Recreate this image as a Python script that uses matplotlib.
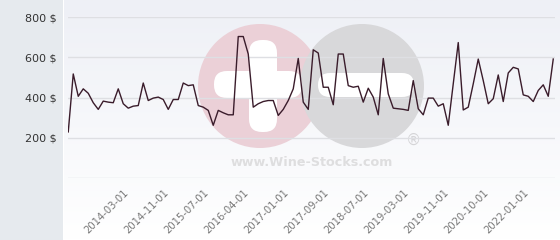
import matplotlib
matplotlib.use("Agg")
import matplotlib.pyplot as plt
import numpy as np
from matplotlib.patches import Circle, FancyBboxPatch, Rectangle

# ---- data ----
prices = [229, 517, 406, 443, 421, 374, 341, 382, 377, 374,
          443, 369, 347, 357, 360, 472, 385, 397, 402, 390,
          341, 390, 390, 472, 459, 463, 360, 352, 336, 262,
          336, 324, 314, 314, 703, 703, 616, 352, 369, 380,
          385, 385, 311, 341, 385, 443, 594, 377, 341, 637,
          621, 451, 451, 364, 616, 616, 459, 451, 456, 377,
          446, 402, 314, 594, 418, 347, 344, 341, 336, 484,
          344, 314, 397, 397, 357, 369, 262, 468, 673, 338,
          352, 468, 591, 484, 369, 394, 512, 380, 522, 550,
          542, 413, 406, 380, 435, 463, 406, 591]
tick_labels = ["2014-03-01", "2014-11-01", "2015-07-01", "2016-04-01",
               "2017-01-01", "2017-09-01", "2018-07-01", "2019-03-01",
               "2019-11-01", "2020-10-01", "2022-01-01"]
tick_first = 11
tick_step = 8
y_ticks = [200, 400, 600, 800]

W, H = 560, 240
fig = plt.figure(figsize=(W / 100, H / 100), dpi=100)

# background + watermark axes (pixel coordinates, y downward)
bg = fig.add_axes([0, 0, 1, 1], zorder=0)
bg.set_xlim(0, W)
bg.set_ylim(H, 0)
bg.axis("off")
bg.add_patch(Rectangle((0, 0), 63, H, color="#e6eaee", lw=0))
grad = np.linspace(0, 1, 100).reshape(-1, 1)
top = np.array([238, 240, 246]) / 255
bot = np.array([255, 255, 255]) / 255
img = top[None, None, :] * (1 - grad[..., None]) + bot[None, None, :] * grad[..., None]
bg.imshow(img, extent=[64, W, H, 0], aspect="auto", zorder=1)

# watermark
bg.add_patch(Circle((260, 86), 62, color="#ebd0d7", lw=0, zorder=2))
bg.add_patch(Circle((362, 86), 62, color="#d8d8da", lw=0, zorder=3))
bg.add_patch(FancyBboxPatch((249, 40), 28, 92, boxstyle="round,pad=0,rounding_size=13",
                            color="white", lw=0, zorder=4))
bg.add_patch(FancyBboxPatch((214, 71), 88, 27, boxstyle="round,pad=0,rounding_size=13",
                            color="white", lw=0, zorder=4))
bg.add_patch(FancyBboxPatch((318, 73), 96, 24, boxstyle="round,pad=0,rounding_size=12",
                            color="white", lw=0, zorder=4))
bg.text(312, 162, "www.Wine-Stocks.com", ha="center", va="center",
        fontsize=9.2, fontweight="bold", color="#dededf", zorder=5)
bg.text(414, 140, "®", ha="center", va="center", fontsize=11,
        color="#d5d5d7", zorder=5)

# main chart axes
ax = fig.add_axes([68 / W, 1 - 178 / H, (555 - 68) / W, (178 - 17) / H], zorder=1)
ax.patch.set_alpha(0)
x = np.arange(len(prices))
ax.plot(x, prices, color="#3a1c2b", lw=1.0, zorder=3)
ax.set_xlim(-0.05, 97.35)
ax.set_ylim(0, 800)
for s in ax.spines.values():
    s.set_visible(False)
for v in [0] + y_ticks:
    ax.axhline(v, color="#dedfe3", lw=1, zorder=1)
ax.set_yticks(y_ticks, [f"{v} $" for v in y_ticks])
ax.tick_params(axis="y", length=0, pad=8, labelsize=8, labelcolor="#333333")
pos = [tick_first + i * tick_step for i in range(len(tick_labels))]
ax.set_xticks(pos, tick_labels, rotation=45, ha="right", rotation_mode="anchor")
ax.tick_params(axis="x", length=0, pad=7, labelsize=7.2, labelcolor="#777777")

fig.savefig("out.png", dpi=100)
